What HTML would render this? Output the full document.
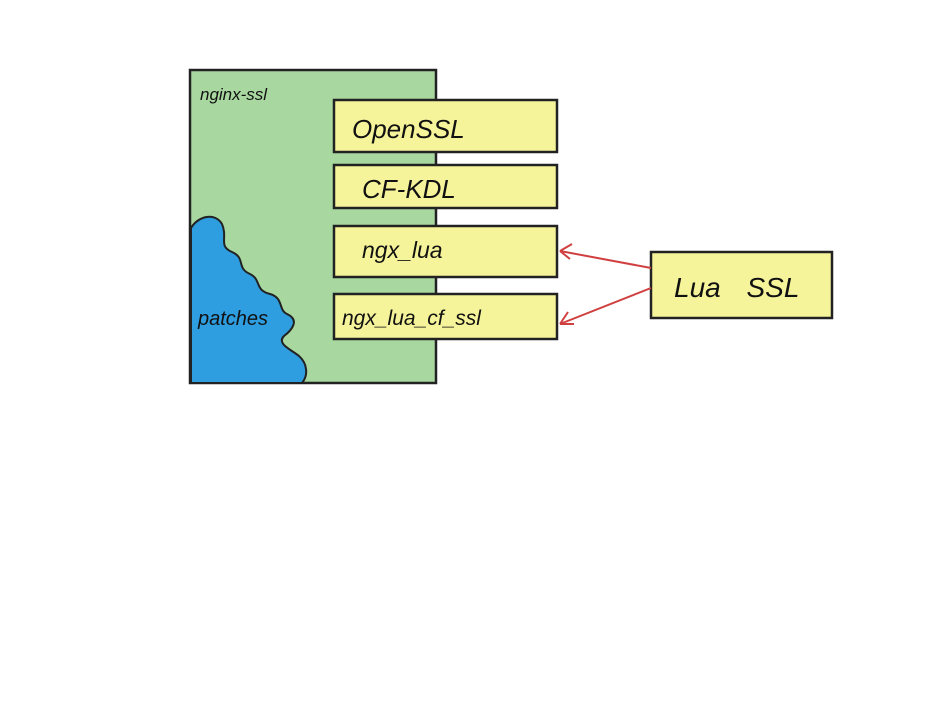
<!DOCTYPE html>
<html><head><style>
html,body{margin:0;padding:0;background:#fff;width:932px;height:720px;overflow:hidden}
text{font-family:"Liberation Sans",sans-serif;font-style:italic;fill:#111}
</style></head><body>
<svg width="932" height="720" viewBox="0 0 932 720" xmlns="http://www.w3.org/2000/svg">
<rect x="190" y="70" width="246" height="313" fill="#a8d8a0" stroke="#222" stroke-width="2.5"/>
<path d="M191,228 C198,216 215,212 222,224 C228,238 218,246 232,252 C246,258 236,268 250,274 C262,280 254,290 270,294 C284,298 278,310 287,314 C300,320 292,330 284,336 C276,344 292,350 299,356 C308,364 308,376 302,383 L191,383 Z" fill="#2e9ee0" stroke="#222" stroke-width="2"/>
<text x="200" y="100" font-size="17">nginx-ssl</text>
<text x="198" y="325" font-size="20">patches</text>
<g fill="#f6f49a" stroke="#222" stroke-width="2.5">
<rect x="334" y="100" width="223" height="52"/>
<rect x="334" y="165" width="223" height="43"/>
<rect x="334" y="226" width="223" height="51"/>
<rect x="334" y="294" width="223" height="45"/>
<rect x="651" y="252" width="181" height="66"/>
</g>
<text x="352" y="138" font-size="26">OpenSSL</text>
<text x="362" y="198" font-size="26">CF-KDL</text>
<text x="362" y="258" font-size="23">ngx_lua</text>
<text x="342" y="325" font-size="21">ngx_lua_cf_ssl</text>
<text x="674" y="297" font-size="28" word-spacing="18">Lua SSL</text>
<g stroke="#d04040" stroke-width="2" fill="none">
<path d="M651,268 L560,251 M560,251 L572,244 M560,251 L570,259"/>
<path d="M651,288 L560,324 M560,324 L568,312 M560,324 L574,324"/>
</g>
</svg>
</body></html>
